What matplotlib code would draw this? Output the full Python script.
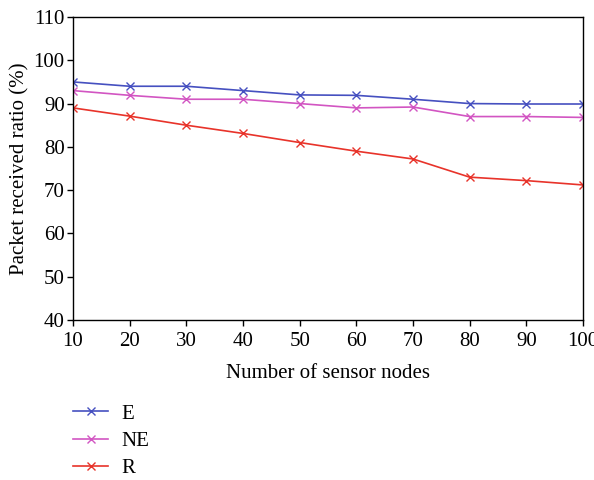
import matplotlib
matplotlib.use('Agg')
import matplotlib.pyplot as plt

# data
nodes = [10, 20, 30, 40, 50, 60, 70, 80, 90, 100]
ratio_e = [95, 94, 94, 93, 92, 91.9, 91, 90, 89.9, 89.9]
ratio_ne = [93, 91.9, 91, 91, 90, 89, 89.2, 87, 87, 86.8]
ratio_r = [89, 87.1, 85, 83.1, 81, 79, 77.2, 73, 72.2, 71.2]
labels = ['E', 'NE', 'R']

plt.rcParams['font.family'] = ['Liberation Serif', 'DejaVu Serif']
fs = 15

fig = plt.figure(figsize=(5.94, 4.8), dpi=100)
ax = fig.add_axes([73 / 594, 1 - 320 / 480, 510 / 594, 303 / 480])

ax.plot(nodes, ratio_e, color='#4650c0', marker='x', markersize=5.5, linewidth=1.2, label=labels[0])
ax.plot(nodes, ratio_ne, color='#d255c2', marker='x', markersize=5.5, linewidth=1.2, label=labels[1])
ax.plot(nodes, ratio_r, color='#e8332a', marker='x', markersize=5.5, linewidth=1.2, label=labels[2])

ax.set_xlim(10, 100)
ax.set_ylim(40, 110)
ax.set_xticks(nodes)
ax.set_yticks(range(40, 111, 10))
ax.tick_params(direction='out', length=4, width=1, top=False, right=False, labelsize=fs)
ax.tick_params(axis='y', pad=2)
ax.tick_params(axis='x', pad=5)
for s in ax.spines.values():
    s.set_linewidth(1)
ax.set_xlabel('Number of sensor nodes', fontsize=fs, labelpad=9)
ax.set_ylabel('Packet received ratio (%)', fontsize=fs, labelpad=3)

fig.legend(loc='upper left', bbox_to_anchor=(73 / 594, 1 - 404 / 480), frameon=False,
           borderaxespad=0, borderpad=0,
           fontsize=fs, handlelength=1.7, labelspacing=0.37, handletextpad=0.6)

fig.savefig('out.png', dpi=100)
